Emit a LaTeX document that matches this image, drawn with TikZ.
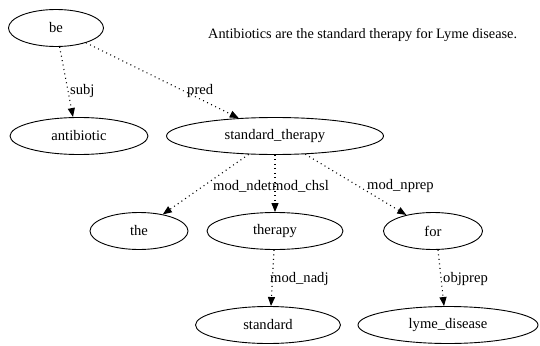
\documentclass[tikz,border=0pt]{standalone}
\usepackage{fontspec}
\setmainfont{Liberation Serif}
\usetikzlibrary{shapes.geometric,arrows.meta}
\begin{document}
\begin{tikzpicture}[x=1pt,y=-1pt,
  every node/.style={font=\fontsize{14.6}{16}\selectfont},
  word/.style={draw,ellipse,line width=0.9pt,inner sep=0pt,minimum height=37pt},
  dep/.style={draw,line width=1.1pt,dash pattern=on 1pt off 3.5pt,-{Triangle[length=9pt,width=7pt]}},
  lab/.style={anchor=west,inner sep=0pt}]
\useasboundingbox (0,0) rectangle (540,345);
\node[word,minimum width=95pt] (be) at (56,28) {be};
\node[anchor=west,inner sep=0pt,font=\fontsize{14.3}{16}\selectfont] (sent) at (208,35) {Antibiotics are the standard therapy for Lyme disease.};
\node[word,minimum width=138pt] (antibiotic) at (79,136) {antibiotic};
\node[word,minimum width=217pt] (st) at (275,136) {standard\_therapy};
\node[word,minimum width=98pt] (the) at (139,231) {the};
\node[word,minimum width=136pt] (therapy) at (275,231) {therapy};
\node[word,minimum width=99pt] (for) at (433,231) {for};
\node[word,minimum width=145pt] (standard) at (268,325) {standard};
\node[word,minimum width=180pt] (lyme) at (448,325) {lyme\_disease};
\draw[dep] (be) -- (antibiotic.north -| 73,0);
\draw[dep] (be) -- (st);
\draw[dep] (st) -- (the);
\draw[dep] (st) -- (therapy);
\draw[dep] (st) -- (for);
\draw[dep] (therapy) -- (standard.north -| 271,0);
\draw[dep] (for.south -| 438,0) -- (lyme.north -| 444,0);
\node[lab] (l1) at (70,91) {subj};
\node[lab] (l2) at (187,91) {pred};
\node[lab] (l3) at (213,186) {mod\_ndet};
\node[lab] (l4) at (272,186) {mod\_chsl};
\node[lab] (l5) at (367,186) {mod\_nprep};
\node[lab] (l6) at (270,279) {mod\_nadj};
\node[lab] (l7) at (443,279) {objprep};
\end{tikzpicture}
\end{document}
